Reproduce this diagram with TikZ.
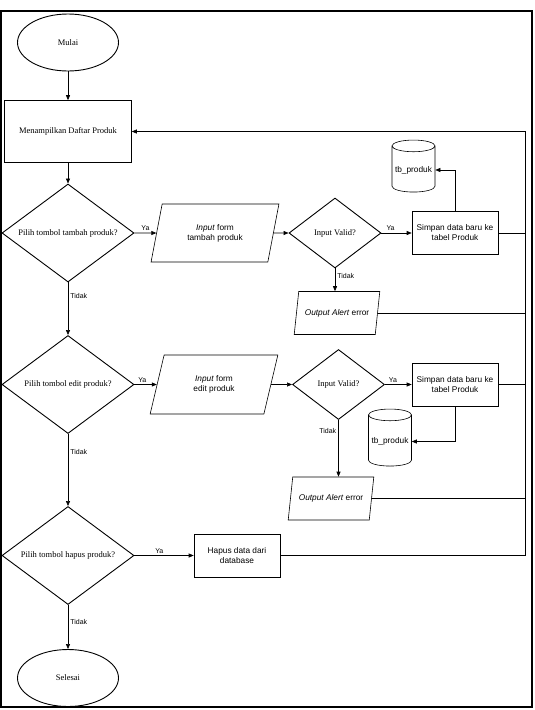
\documentclass[tikz,border=0pt]{standalone}
\usepackage{fontspec}
\setmainfont{Liberation Serif}
\setsansfont{Liberation Sans}
\usetikzlibrary{shapes.geometric,arrows.meta}

\begin{document}
\begin{tikzpicture}[x=1pt, y=-1pt,
   >={Triangle[length=5pt,width=4pt]},
   every node/.style={inner sep=1pt},
   serif/.style={font=\fontsize{8.5}{10}\selectfont},
   sans/.style={font=\sffamily\fontsize{8.3}{10}\selectfont},
   lbl/.style={font=\sffamily\fontsize{7}{8}\selectfont, inner sep=2pt},
   terminal/.style={draw, ellipse, line width=0.9pt, serif,
                    minimum width=101pt, minimum height=57pt},
   proses/.style={draw, rectangle, line width=0.6pt, sans, align=center,
                  minimum width=86pt, minimum height=43pt},
   keputusan/.style={draw, diamond, line width=0.9pt, inner sep=0pt,
                     minimum width=132pt, minimum height=98pt},
   validasi/.style={keputusan, minimum width=92pt, minimum height=70pt},
   masukan/.style={draw, trapezium, trapezium left angle=73,
                   trapezium right angle=107, trapezium stretches=true,
                   line width=0.6pt, sans, align=center,
                   minimum width=128pt, minimum height=58pt},
   keluaran/.style={masukan, trapezium left angle=68,
                    trapezium right angle=112, minimum width=86pt,
                    minimum height=43pt},
   db/.style={draw, cylinder, shape border rotate=90, aspect=0.3,
              line width=0.6pt, sans, minimum width=43pt, minimum height=52pt},
   panah/.style={->, line width=0.6pt},
   garis/.style={line width=0.6pt}]

\useasboundingbox (0,0) rectangle (535,710);
\draw[line width=2.2pt] (1,11) rectangle (532,707);

\node[terminal] (mulai) at (68,42.5) {Mulai};
\node[draw, rectangle, line width=0.6pt, serif, minimum width=127pt,
      minimum height=62pt] (tampil) at (68,131.5) {Menampilkan Daftar Produk};

% tambah produk
\node[keputusan, label={[serif]center:Pilih tombol tambah produk?}] (tambah) at (68,233) {};
\node[masukan] (formtambah) at (215,233) {\textit{Input} form\\tambah produk};
\node[validasi, label={[serif]center:Input Valid?}] (valid1) at (335,233) {};
\node[proses] (simpan1) at (455,233) {Simpan data baru ke\\tabel Produk};
\node[db] (db1) at (413.5,170) {tb\_produk};
\node[keluaran] (error1) at (337,313) {\textit{Output Alert} error};

% edit produk
\node[keputusan, label={[serif]center:Pilih tombol edit produk?}] (edit) at (68,384.5) {};
\node[masukan, minimum height=59pt] (formedit) at (214,384.5) {\textit{Input} form\\edit produk};
\node[validasi, label={[serif]center:Input Valid?}] (valid2) at (338.5,384.5) {};
\node[proses] (simpan2) at (455,384.5) {Simpan data baru ke\\tabel Produk};
\node[db, minimum height=57pt] (db2) at (390,441.5) {tb\_produk};
\node[keluaran] (error2) at (331,498.5) {\textit{Output Alert} error};

% hapus produk
\node[keputusan, label={[serif]center:Pilih tombol hapus produk?}] (hapus) at (68,555.5) {};
\node[proses] (hapusdata) at (237,555.5) {Hapus data dari\\database};
\node[terminal] (selesai) at (68,678) {Selesai};

\coordinate (kanan) at (525,131.5);

\draw[panah] (mulai) -- (tampil);
\draw[panah] (tampil) -- (tambah);
\draw[panah] (tambah) -- node[lbl, above] {Ya} (formtambah);
\draw[panah] (formtambah) -- (valid1);
\draw[panah] (valid1) -- node[lbl, above, pos=0.3] {Ya} (simpan1);
\draw[panah] (simpan1.north) |- (db1.east);
\draw[panah] (valid1.south) -- node[lbl, right, pos=0.35] {Tidak} (valid1.south |- error1.north);
\draw[panah] (tambah) -- node[lbl, right, pos=0.25] {Tidak} (edit);

\draw[panah] (edit) -- node[lbl, above, pos=0.35] {Ya} (formedit);
\draw[panah] (formedit) -- (valid2);
\draw[panah] (valid2) -- node[lbl, above, pos=0.3] {Ya} (simpan2);
\draw[panah] (simpan2.south) |- (db2.east);
\draw[panah] (valid2.south) -- node[lbl, left, pos=0.2] {Tidak} (valid2.south |- error2.north);
\draw[panah] (edit) -- node[lbl, right, pos=0.25] {Tidak} (hapus);

\draw[panah] (hapus) -- node[lbl, above, pos=0.42] {Ya} (hapusdata);
\draw[panah] (hapus) -- node[lbl, right, pos=0.38] {Tidak} (selesai);

% kembali ke daftar produk
\draw[panah] (hapusdata.east) -| (kanan) -- (tampil.east);
\draw[garis] (simpan1.east) -- (simpan1.east -| kanan);
\draw[garis] (error1.east) -- (error1.east -| kanan);
\draw[garis] (simpan2.east) -- (simpan2.east -| kanan);
\draw[garis] (error2.east) -- (error2.east -| kanan);

\end{tikzpicture}
\end{document}
